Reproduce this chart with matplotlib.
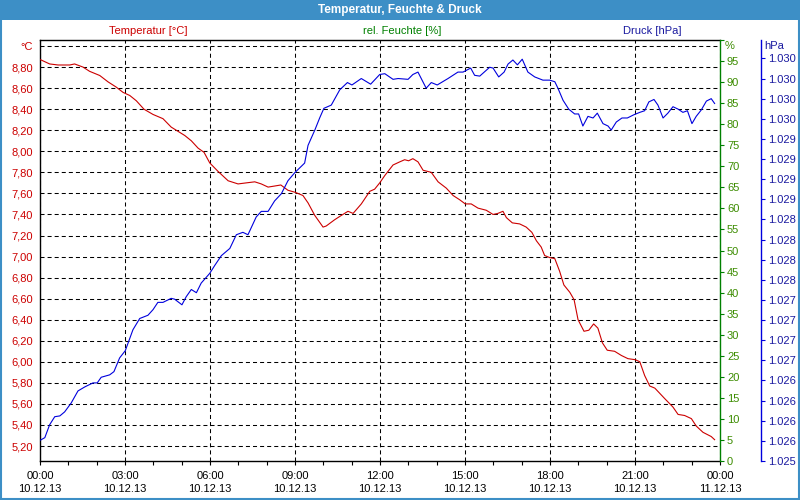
import matplotlib
matplotlib.use("Agg")
import matplotlib.pyplot as plt
from matplotlib.patches import Rectangle
from matplotlib.ticker import FixedLocator, MultipleLocator
import numpy as np

plt.rcParams['font.family'] = ['Liberation Sans', 'DejaVu Sans']
plt.rcParams['font.size'] = 8
plt.rcParams['lines.scale_dashes'] = False

# ---------------- data ----------------
title = "Temperatur, Feuchte & Druck"
temp_label = "Temperatur [°C]"
hum_label = "rel. Feuchte [%]"
press_label = "Druck [hPa]"

x_tick_hours = [0, 3, 6, 9, 12, 15, 18, 21, 24]
x_tick_labels = ["00:00\n10.12.13", "03:00\n10.12.13", "06:00\n10.12.13",
                 "09:00\n10.12.13", "12:00\n10.12.13", "15:00\n10.12.13",
                 "18:00\n10.12.13", "21:00\n10.12.13", "00:00\n11.12.13"]

temp_ticks = [5.2, 5.4, 5.6, 5.8, 6.0, 6.2, 6.4, 6.6, 6.8, 7.0, 7.2, 7.4,
              7.6, 7.8, 8.0, 8.2, 8.4, 8.6, 8.8]
hum_ticks = [0, 5, 10, 15, 20, 25, 30, 35, 40, 45, 50, 55, 60, 65, 70, 75,
             80, 85, 90, 95]
press_ticks = [1025.3, 1025.55, 1025.8, 1026.05, 1026.3, 1026.55, 1026.8,
               1027.05, 1027.3, 1027.55, 1027.8, 1028.05, 1028.3, 1028.55,
               1028.8, 1029.05, 1029.3, 1029.55, 1029.8, 1030.05, 1030.3]

temp_hours = [0.02, 0.34, 0.64, 1.05, 1.22, 1.52, 1.75, 2.11, 2.40, 2.69,
              2.93, 3.17, 3.40, 3.67, 3.99, 4.34, 4.63, 4.87, 5.11, 5.34,
              5.58, 5.79, 5.99, 6.28, 6.64, 6.99, 7.28, 7.58, 7.81, 8.05,
              8.28, 8.50, 8.75, 9.01, 9.28, 9.46, 9.70, 9.99, 10.10, 10.40,
              10.63, 10.87, 11.05, 11.34, 11.64, 11.81, 11.99, 12.17, 12.46,
              12.70, 12.87, 13.01, 13.16, 13.34, 13.52, 13.81, 14.05, 14.34,
              14.58, 14.81, 15.01, 15.22, 15.46, 15.75, 15.99, 16.16, 16.34,
              16.46, 16.67, 16.93, 17.16, 17.36, 17.52, 17.69, 17.81, 17.99,
              18.17, 18.34, 18.49, 18.70, 18.85, 18.99, 19.20, 19.37, 19.54,
              19.69, 19.85, 20.02, 20.28, 20.52, 20.75, 21.01, 21.17, 21.34,
              21.52, 21.70, 22.05, 22.34, 22.52, 22.75, 22.99, 23.16, 23.40,
              23.69, 23.81]
temp_values = [8.87, 8.83, 8.82, 8.82, 8.83, 8.80, 8.76, 8.72, 8.66, 8.61,
               8.56, 8.53, 8.48, 8.40, 8.35, 8.31, 8.23, 8.19, 8.15, 8.10,
               8.03, 7.99, 7.89, 7.81, 7.72, 7.69, 7.70, 7.71, 7.69, 7.66,
               7.67, 7.68, 7.63, 7.61, 7.58, 7.51, 7.39, 7.28, 7.29, 7.35,
               7.39, 7.43, 7.41, 7.50, 7.62, 7.64, 7.70, 7.77, 7.87, 7.90,
               7.92, 7.91, 7.93, 7.90, 7.82, 7.80, 7.71, 7.65, 7.58, 7.54,
               7.50, 7.50, 7.46, 7.44, 7.40, 7.41, 7.43, 7.37, 7.32, 7.31,
               7.28, 7.23, 7.15, 7.09, 7.01, 6.99, 6.98, 6.86, 6.73, 6.66,
               6.59, 6.40, 6.29, 6.30, 6.36, 6.32, 6.18, 6.11, 6.10, 6.06,
               6.03, 6.02, 6.00, 5.87, 5.77, 5.75, 5.65, 5.57, 5.50, 5.49,
               5.46, 5.39, 5.33, 5.29, 5.26]

press_hours = [0.02, 0.17, 0.34, 0.52, 0.70, 0.87, 1.10, 1.34, 1.58, 1.87,
               2.02, 2.16, 2.46, 2.61, 2.81, 3.01, 3.28, 3.52, 3.81, 3.99,
               4.16, 4.34, 4.63, 4.75, 5.01, 5.16, 5.34, 5.52, 5.69, 5.99,
               6.17, 6.40, 6.70, 6.93, 7.16, 7.34, 7.63, 7.81, 8.05, 8.28,
               8.52, 8.75, 8.99, 9.34, 9.46, 9.70, 9.87, 10.02, 10.28, 10.58,
               10.85, 11.01, 11.34, 11.67, 11.99, 12.17, 12.46, 12.64, 12.99,
               13.16, 13.34, 13.63, 13.81, 14.02, 14.40, 14.75, 14.93, 15.20,
               15.34, 15.52, 15.87, 15.99, 16.19, 16.38, 16.52, 16.69, 16.85,
               17.02, 17.22, 17.46, 17.75, 17.99, 18.17, 18.28, 18.46, 18.66,
               18.87, 19.01, 19.16, 19.34, 19.52, 19.67, 19.87, 20.05, 20.16,
               20.34, 20.54, 20.73, 20.96, 21.17, 21.34, 21.49, 21.67, 21.81,
               21.99, 22.16, 22.34, 22.52, 22.69, 22.85, 23.01, 23.16, 23.34,
               23.52, 23.69, 23.81]
press_values = [1025.56, 1025.59, 1025.75, 1025.85, 1025.86, 1025.91, 1026.02,
                1026.17, 1026.22, 1026.27, 1026.27, 1026.34, 1026.37, 1026.41,
                1026.58, 1026.67, 1026.93, 1027.07, 1027.11, 1027.18, 1027.27,
                1027.27, 1027.32, 1027.31, 1027.24, 1027.34, 1027.43, 1027.39,
                1027.51, 1027.63, 1027.73, 1027.85, 1027.94, 1028.11, 1028.14,
                1028.11, 1028.33, 1028.40, 1028.40, 1028.53, 1028.62, 1028.78,
                1028.88, 1029.00, 1029.22, 1029.41, 1029.56, 1029.68, 1029.72,
                1029.91, 1030.00, 1029.97, 1030.05, 1029.98, 1030.10, 1030.11,
                1030.04, 1030.05, 1030.04, 1030.10, 1030.13, 1029.93, 1030.00,
                1029.97, 1030.05, 1030.13, 1030.13, 1030.18, 1030.09, 1030.08,
                1030.19, 1030.18, 1030.07, 1030.13, 1030.23, 1030.28, 1030.22,
                1030.29, 1030.13, 1030.07, 1030.03, 1030.03, 1030.01, 1029.93,
                1029.78, 1029.67, 1029.61, 1029.61, 1029.46, 1029.58, 1029.56,
                1029.62, 1029.49, 1029.46, 1029.41, 1029.51, 1029.56, 1029.56,
                1029.60, 1029.63, 1029.65, 1029.76, 1029.79, 1029.72, 1029.56,
                1029.62, 1029.70, 1029.67, 1029.63, 1029.65, 1029.49, 1029.58,
                1029.66, 1029.77, 1029.80, 1029.74]

# ---------------- style ----------------
RED = '#cc0000'
RED_TXT = '#cc0000'
GREEN = '#008000'
GREEN_TXT = '#3c8c00'
BLUE = '#0000dd'
BLUE_TXT = '#1a1aa0'
BAR = '#3d8fc6'

W, H = 800, 500
fig = plt.figure(figsize=(8, 5), dpi=100)
fig.patch.set_facecolor('white')

def fx(px):
    return px / W

def fy(py):
    return 1 - py / H

# title bar and window border
fig.patches.append(Rectangle((0, fy(20)), 1, 20 / H, transform=fig.transFigure,
                             facecolor=BAR, edgecolor='none', zorder=0))
fig.patches.append(Rectangle((fx(1), fy(499)), fx(798), 498 / H,
                             transform=fig.transFigure, facecolor='none',
                             edgecolor=BAR, linewidth=1.5, zorder=0))
fig.text(0.5, fy(10), title, color='white', fontsize=8.5, fontweight='bold',
         ha='center', va='center')

left, right, top, bottom = 40, 720, 40, 461
ax = fig.add_axes([fx(left), fy(bottom), fx(right - left), (bottom - top) / H])
ax_h = ax.twinx()
ax_p = ax.twinx()

# temperature axis
ax.set_xlim(0, 24)
ax.set_ylim(5.0575, 9.0575)
grid_ticks = temp_ticks + [9.0]
ax.yaxis.set_major_locator(FixedLocator(grid_ticks))
ax.set_yticklabels([f"{v:.2f}".replace('.', ',') for v in temp_ticks] + ["°C"])
ax.tick_params(axis='y', length=0, pad=5, labelcolor=RED_TXT, labelsize=8)
ax.xaxis.set_major_locator(FixedLocator(x_tick_hours))
ax.set_xticklabels(x_tick_labels, linespacing=1.45)
ax.xaxis.set_minor_locator(MultipleLocator(1))
ax.tick_params(axis='x', which='both', direction='out', length=3, width=0.8,
               pad=4, labelsize=8, color='black')
dash = (0, (2.9, 2.2))
ax.grid(True, which='major', color='black', linestyle=dash, linewidth=0.75)
for s in ['left', 'top', 'bottom']:
    ax.spines[s].set_color('black')
    ax.spines[s].set_linewidth(1.0)
ax.spines['right'].set_visible(False)
ax.set_axisbelow(True)

ax.plot(temp_hours, temp_values, color=RED, linewidth=0.8, zorder=3)

# humidity axis
ax_h.set_ylim(0, 100)
ax_h.yaxis.set_major_locator(FixedLocator(hum_ticks + [100]))
ax_h.set_yticklabels([str(v) for v in hum_ticks] + [""])
ax_h.tick_params(axis='y', direction='out', length=3, width=0.8, pad=2,
                 color=GREEN, labelcolor=GREEN_TXT, labelsize=8)
ax_h.spines['right'].set_color(GREEN)
ax_h.spines['right'].set_linewidth(1.0)
for s in ['left', 'top', 'bottom']:
    ax_h.spines[s].set_visible(False)

# pressure axis
ax_p.set_ylim(1025.3, 1030.5285)
ax_p.spines['right'].set_position(('axes', 1 + 41 / (right - left)))
ax_p.spines['right'].set_color(BLUE)
ax_p.spines['right'].set_linewidth(1.0)
for s in ['left', 'top', 'bottom']:
    ax_p.spines[s].set_visible(False)
ax_p.yaxis.set_major_locator(FixedLocator(press_ticks))
ax_p.set_yticklabels(["1.%03d" % (int(round(v)) - 1000) for v in press_ticks])
ax_p.tick_params(axis='y', direction='out', length=3, width=0.8, pad=2,
                 color=BLUE, labelcolor=BLUE_TXT, labelsize=8)
ax_p.plot(press_hours, press_values, color=BLUE, linewidth=0.8, zorder=3)

# unit labels at top of each axis
fig.text(fx(764), fy(46), "hPa", color=BLUE_TXT, fontsize=8, ha='left', va='center')
fig.text(fx(725), fy(46), "%", color=GREEN_TXT, fontsize=8, ha='left', va='center')

# series headers
fig.text(fx(148), fy(31), temp_label, color=RED_TXT, fontsize=8, ha='center', va='center')
fig.text(fx(402), fy(31), hum_label, color=GREEN, fontsize=8, ha='center', va='center')
fig.text(fx(652), fy(31), press_label, color=BLUE_TXT, fontsize=8, ha='center', va='center')

fig.savefig("out.png", dpi=100)
